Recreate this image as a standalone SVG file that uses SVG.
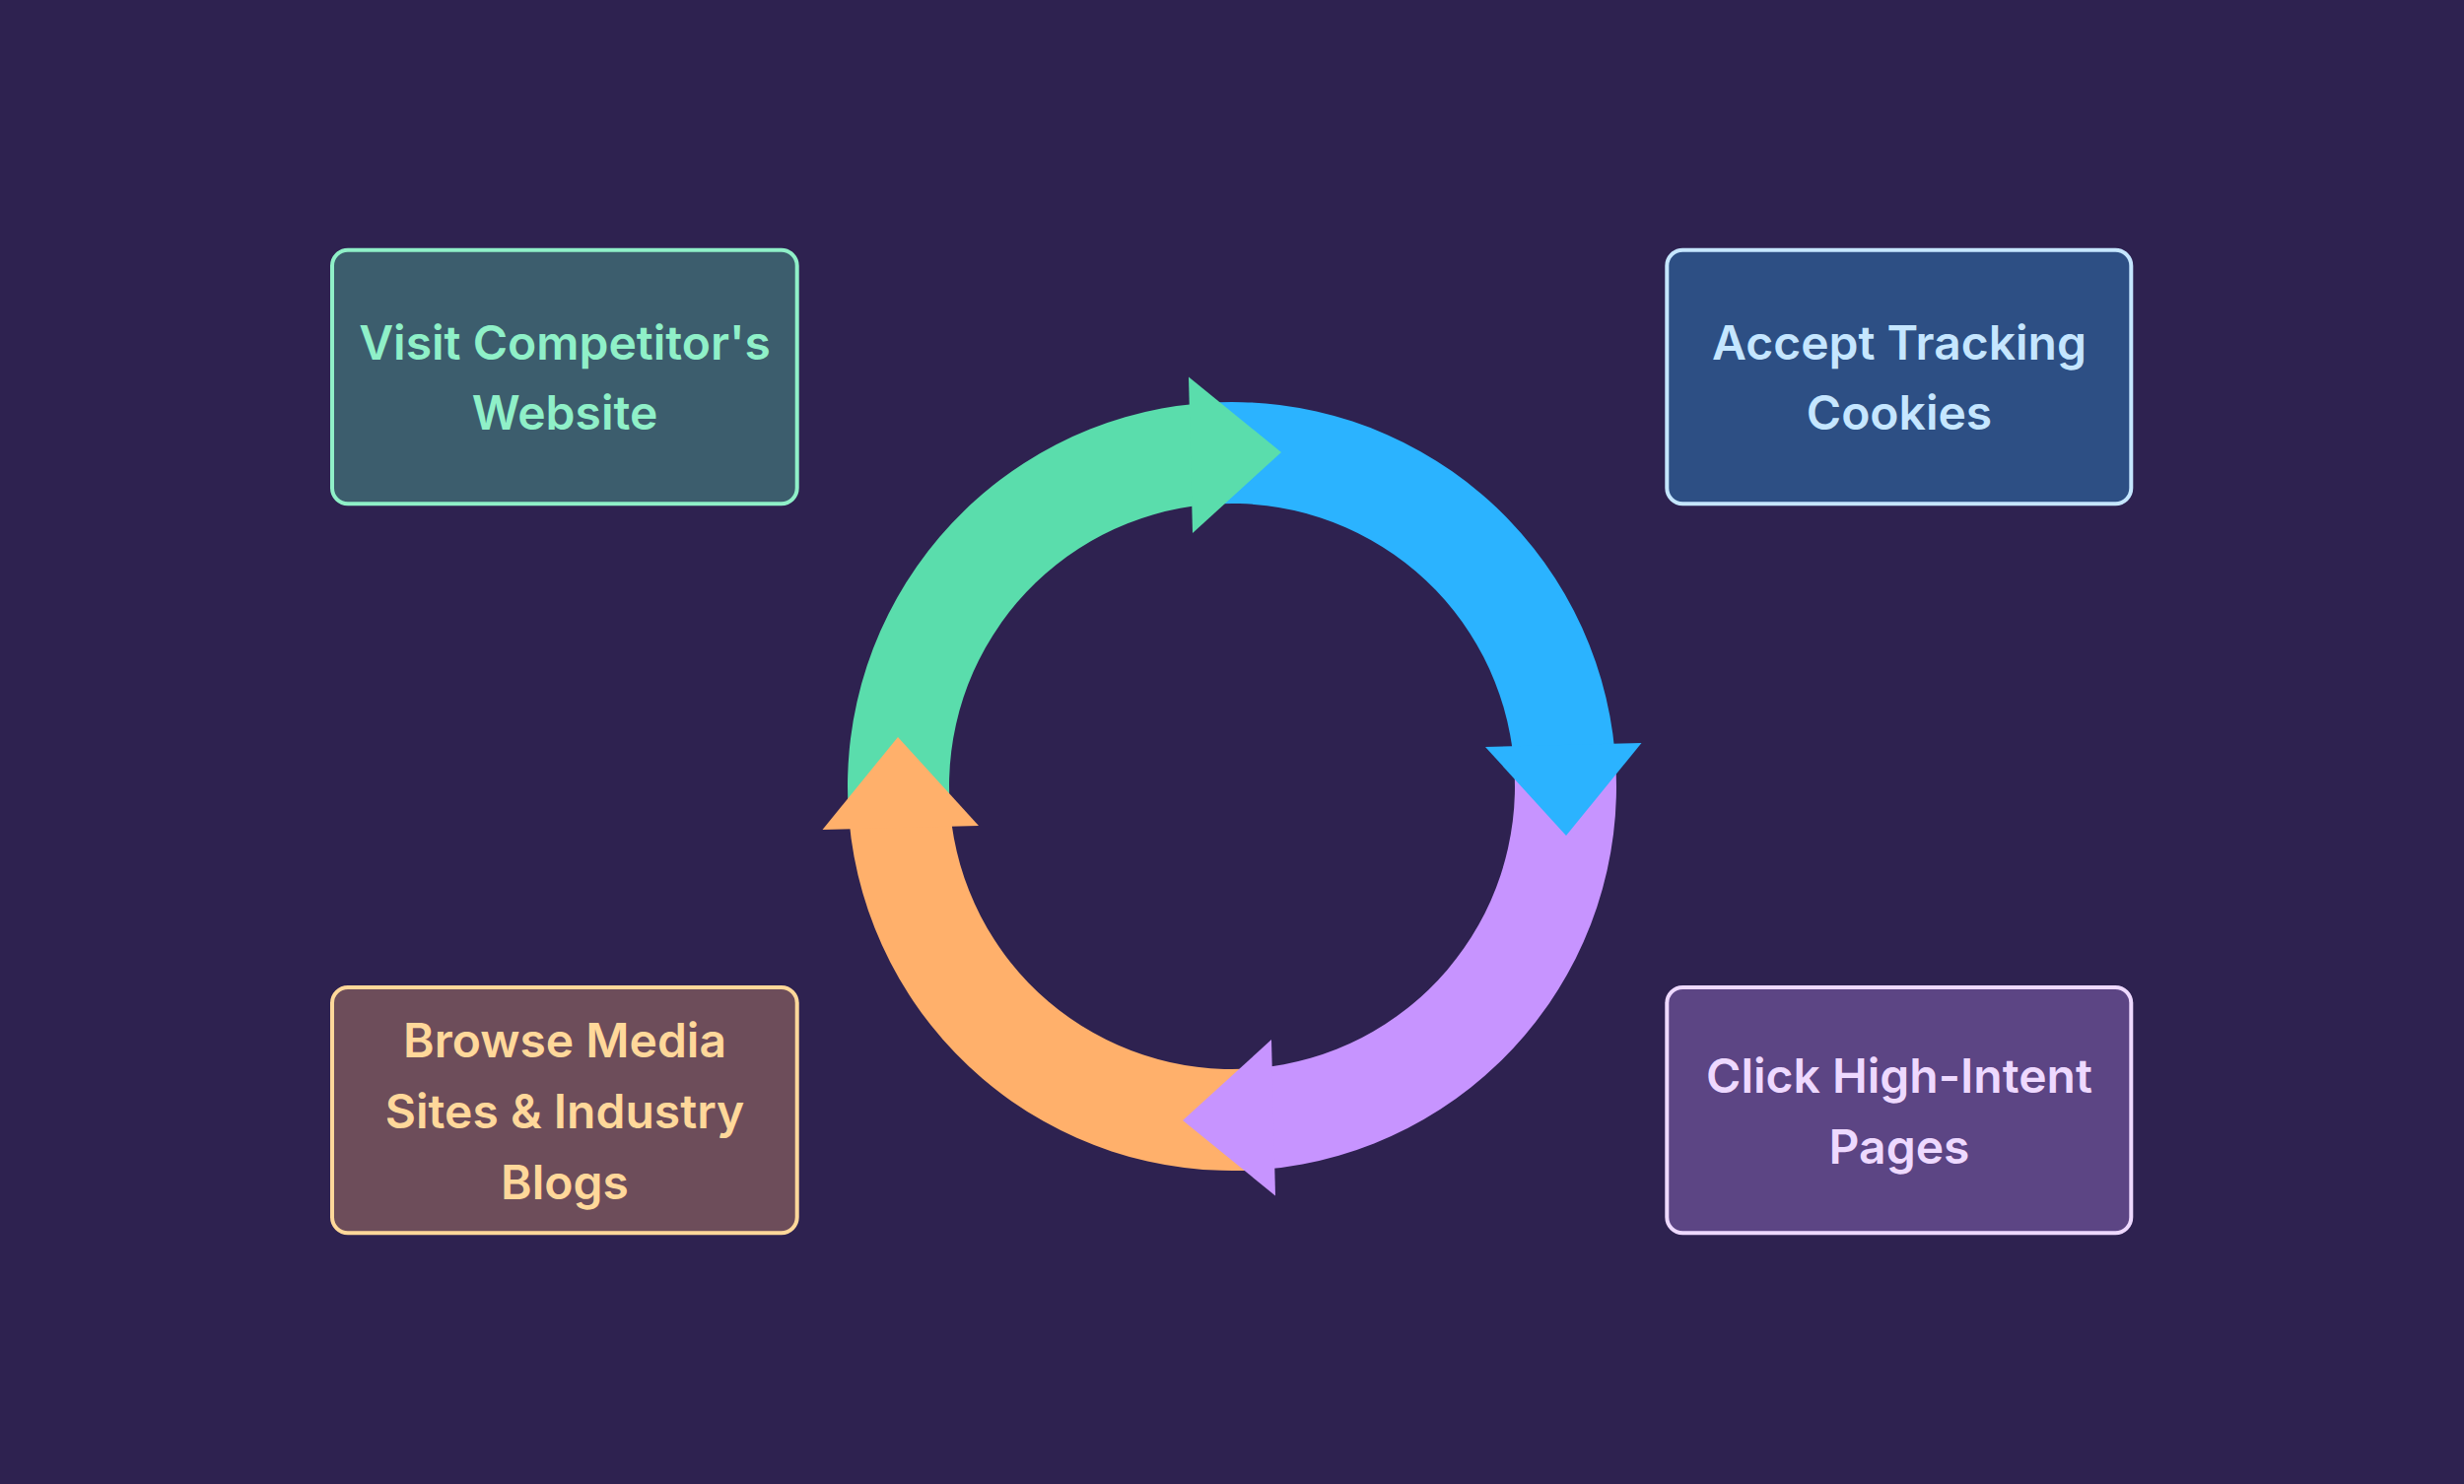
<svg xmlns="http://www.w3.org/2000/svg" xmlns:xlink="http://www.w3.org/1999/xlink" width="2500" height="1506" viewBox="0 0 2500 1506">
<style>
  .lbl { font-family: Inter, "Noto Sans", "Liberation Sans", sans-serif; font-size: 48px; font-weight: 600; text-anchor: middle; }
  .box { stroke-width: 4; }
</style>
<defs>
  <path id="shaft" d="M 1222.80 408.95 A 390 390 0 0 1 1638.52 764.01 L 1535.91 772.99 A 287 287 0 0 0 1229.98 511.70 Z"/>
  <polygon id="head" points="1206,382.5 1300,459 1210,541"/>
</defs>
<rect width="2500" height="1506" fill="#2e2250"/>
<g id="connectors">
  <use xlink:href="#shaft" href="#shaft" fill="#2bb3ff"/>
  <use xlink:href="#shaft" href="#shaft" fill="#c794ff" transform="rotate(90 1250 798)"/>
  <use xlink:href="#shaft" href="#shaft" fill="#ffb06b" transform="rotate(180 1250 798)"/>
  <use xlink:href="#shaft" href="#shaft" fill="#5addac" transform="rotate(270 1250 798)"/>
  <use xlink:href="#head" href="#head" fill="#5addac"/>
  <use xlink:href="#head" href="#head" fill="#2bb3ff" transform="rotate(90 1250 798)"/>
  <use xlink:href="#head" href="#head" fill="#c794ff" transform="rotate(180 1250 798)"/>
  <use xlink:href="#head" href="#head" fill="#ffb06b" transform="rotate(270 1250 798)"/>
</g>
<g id="node-visit">
  <rect class="box" x="337" y="253.7" width="471.7" height="257.6" rx="16" fill="#3c5d6d" stroke="#8ff0c8"/>
  <text class="lbl" fill="#8ff0c8" x="573" y="364.5">Visit Competitor's</text>
  <text class="lbl" fill="#8ff0c8" x="573" y="435.5">Website</text>
</g>
<g id="node-accept">
  <rect class="box" x="1691.3" y="253.7" width="471" height="257.6" rx="16" fill="#2d4f84" stroke="#c5e6ff"/>
  <text class="lbl" fill="#c5e6ff" x="1927" y="364.5">Accept Tracking</text>
  <text class="lbl" fill="#c5e6ff" x="1927" y="435.5">Cookies</text>
</g>
<g id="node-click">
  <rect class="box" x="1691.3" y="1002" width="471" height="249.3" rx="16" fill="#5c4584" stroke="#eed9ff"/>
  <text class="lbl" fill="#eed9ff" x="1927" y="1108.5">Click High-Intent</text>
  <text class="lbl" fill="#eed9ff" x="1927" y="1180.5">Pages</text>
</g>
<g id="node-browse">
  <rect class="box" x="337" y="1002" width="471.7" height="249.3" rx="16" fill="#6d4d5a" stroke="#ffd89a"/>
  <text class="lbl" fill="#ffd89a" x="573" y="1072.5">Browse Media</text>
  <text class="lbl" fill="#ffd89a" x="573" y="1144.5">Sites &amp; Industry</text>
  <text class="lbl" fill="#ffd89a" x="573" y="1216.5">Blogs</text>
</g>
</svg>
